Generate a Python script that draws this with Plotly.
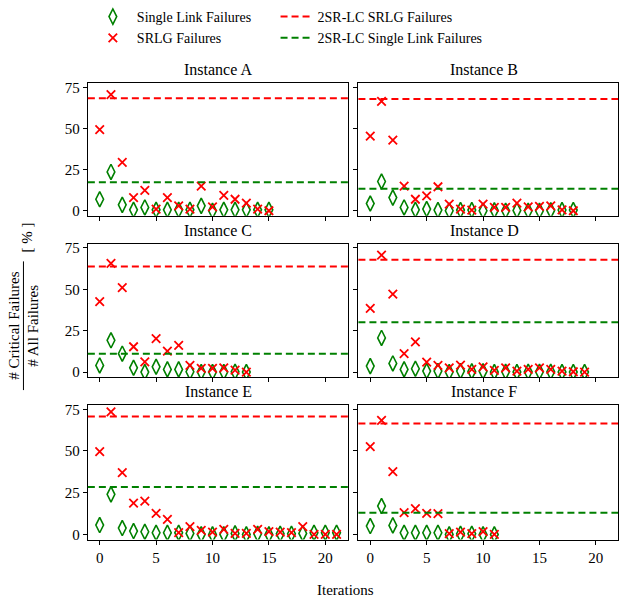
import plotly.graph_objects as go

# Per-instance results: share of critical failures (%) per iteration
instances = ["Instance A", "Instance B", "Instance C", "Instance D", "Instance E", "Instance F"]

link_A = [7, 23.6, 3.6, 0.6, 2, 0.6, 0.6, 0.6, 0.6, 3, 0, 0.6, 0.6, 0.6, 0.6, 0.6]
srlg_A = [49.4, 70.6, 29.4, 8, 12.4, 1, 8, 3, 1, 15, 2.4, 9.4, 7, 4.6, 1, 0]

link_B = [4.4, 17.8, 8, 2, 0.6, 1, 0.4, 0, 0.4, 0.4, 0, 0.2, 0, 0.2, 0, 0, 0.2, 0.4, 0.4]
srlg_B = [45.4, 66.6, 43, 15, 7, 9, 14.6, 4, 1, 0.4, 4, 2, 2, 4.6, 2.4, 2.6, 3, 0.6, 0]

link_C = [4, 19.2, 11.1, 2.6, 0, 3.2, 1.6, 1.6, 0.2, 0, 0, 0, 0.2, 0]
srlg_C = [42.5, 65.7, 51, 15.3, 6.2, 20.2, 12.7, 16.1, 4, 2.2, 2.2, 2.6, 1.2, 0]

link_D = [3.6, 20.6, 5.2, 1.6, 2, 0.6, 0.6, 0, 0.6, 0.4, 0.4, 0, 0.2, 0, 0.2, 0.2, 0.2, 0, 0, 0]
srlg_D = [38.5, 70.6, 47.1, 11.2, 18.2, 6, 4, 2.6, 4.2, 1.6, 3.2, 1, 2.6, 0.6, 1.6, 2.6, 1.6, 0.6, 0.2, 0]

link_E = [5.6, 24, 3.8, 2, 1.6, 1, 1, 1, 0.6, 0, 0, 0, 0.6, 0, 0.4, 0, 0.4, 0.4, 0.6, 1, 1, 1]
srlg_E = [49.6, 73.4, 37, 18.8, 20, 12.6, 9, 1, 4.6, 2.4, 1.4, 3, 0.6, 0.6, 3, 1.6, 1.4, 1, 4.6, 0, 0, 0]

link_F = [5, 17, 5.4, 1, 1, 1, 1, 0, 0.4, 0.4, 0, 0]
srlg_F = [52.6, 68.4, 37.6, 13, 15.4, 12.6, 12.4, 0.4, 1.4, 0.4, 1.6, 0]

# 2SR-LC reference levels (%)
lc_srlg = [68.4, 68, 63.7, 67.9, 70.6, 66.4]
lc_link = [17.4, 13.4, 11.1, 30.1, 28.4, 13]

link_series = [link_A, link_B, link_C, link_D, link_E, link_F]
srlg_series = [srlg_A, srlg_B, srlg_C, srlg_D, srlg_E, srlg_F]

x_ticks = [0, 5, 10, 15, 20]
y_ticks = [0, 25, 50, 75]

W, H = 619, 599
FONT = "'Liberation Serif', 'DejaVu Serif', serif"
GREEN = "#008000"
RED = "#ff0000"
DASH = "7px,4px"

# panel geometry (paper fractions)
col_dom = [[88 / W, 349 / W], [359 / W, 1.0]]
row_dom = [[1 - 215 / H, 1 - 81 / H], [1 - 378 / H, 1 - 243 / H], [1 - 542 / H, 1 - 406 / H]]
px_per_unit = (349 - 88) / 23.1
x_range_left = [-1.05, 22.05]
x_range_right = [-1.05, -1.05 + (W - 359) / px_per_unit]
y_range = [-3.1, 77.6]
title_x = [(88 + 349) / 2 / W, (359 + 611) / 2 / W]

fig = go.Figure()
layout = {}
for i in range(6):
    r, c = divmod(i, 2)
    n = i + 1
    xa = "xaxis" if n == 1 else f"xaxis{n}"
    ya = "yaxis" if n == 1 else f"yaxis{n}"
    xref = "x" if n == 1 else f"x{n}"
    yref = "y" if n == 1 else f"y{n}"
    common = dict(showline=True, linecolor="black", linewidth=1, mirror=True,
                  ticks="outside", ticklen=4, tickwidth=1, tickcolor="black",
                  showgrid=False, zeroline=False,
                  tickfont=dict(family=FONT, size=15, color="black"))
    layout[xa] = dict(common, domain=col_dom[c], anchor=yref,
                      range=x_range_left if c == 0 else x_range_right,
                      tickvals=x_ticks, showticklabels=(r == 2))
    layout[ya] = dict(common, domain=row_dom[r], anchor=xref, range=y_range,
                      tickvals=y_ticks, showticklabels=(c == 0))

    fig.add_trace(go.Scatter(
        x=list(range(len(link_series[i]))), y=link_series[i], mode="markers",
        xaxis=xref, yaxis=yref,
        marker=dict(symbol="diamond-tall-open", size=11, color=GREEN,
                    line=dict(width=1.6, color=GREEN)),
        name="Single Link Failures", legend="legend", legendgroup="link",
        showlegend=(i == 0)))
    fig.add_trace(go.Scatter(
        x=list(range(len(srlg_series[i]))), y=srlg_series[i], mode="markers",
        xaxis=xref, yaxis=yref,
        marker=dict(symbol="x-thin", size=8.5, color=RED,
                    line=dict(width=1.8, color=RED)),
        name="SRLG Failures", legend="legend", legendgroup="srlg",
        showlegend=(i == 0)))

    # 2SR-LC levels as horizontal dashed lines across the panel
    for val, col in ((lc_srlg[i], RED), (lc_link[i], GREEN)):
        fig.add_shape(type="line", xref=f"{xref} domain", yref=yref,
                      x0=0, x1=1, y0=val, y1=val,
                      line=dict(color=col, width=2, dash=DASH))

    fig.add_annotation(text=instances[i], xref="paper", yref="paper",
                       x=title_x[c], xanchor="center",
                       y=row_dom[r][1], yanchor="bottom", yshift=3,
                       showarrow=False, font=dict(family=FONT, size=16, color="black"))

# legend entries for the dashed reference lines (second legend column)
fig.add_trace(go.Scatter(x=[None], y=[None], mode="lines", name="2SR-LC SRLG Failures",
                         line=dict(color=RED, width=2, dash=DASH), legend="legend2"))
fig.add_trace(go.Scatter(x=[None], y=[None], mode="lines", name="2SR-LC Single Link Failures",
                         line=dict(color=GREEN, width=2, dash=DASH), legend="legend2"))

# y-axis label: fraction "# Critical Failures / # All Failures" and unit
lab_font = dict(family=FONT, size=15, color="black")
fig.add_annotation(text="# Critical Failures", xref="paper", yref="paper",
                   x=14 / W, y=1 - 326 / H, xanchor="center", yanchor="middle",
                   textangle=-90, showarrow=False, font=lab_font)
fig.add_annotation(text="# All Failures", xref="paper", yref="paper",
                   x=33 / W, y=1 - 326 / H, xanchor="center", yanchor="middle",
                   textangle=-90, showarrow=False, font=lab_font)
fig.add_shape(type="line", xref="paper", yref="paper",
              x0=23.5 / W, x1=23.5 / W, y0=1 - 261 / H, y1=1 - 391 / H,
              line=dict(color="black", width=1))
fig.add_annotation(text="[ % ]", xref="paper", yref="paper",
                   x=27 / W, y=1 - 237 / H, xanchor="center", yanchor="middle",
                   textangle=-90, showarrow=False, font=lab_font)
fig.add_annotation(text="Iterations", xref="paper", yref="paper",
                   x=346 / W, y=1 - 593 / H, xanchor="center", yanchor="middle",
                   showarrow=False, font=lab_font)

leg_font = dict(family=FONT, size=14, color="black")
fig.update_layout(
    **layout,
    width=W, height=H,
    margin=dict(l=0, r=0, t=0, b=0),
    paper_bgcolor="white", plot_bgcolor="white",
    font=dict(family=FONT, color="black"),
    legend=dict(orientation="v", x=89 / W, xanchor="left", y=1 + 2 / H, yanchor="top",
                tracegroupgap=0, itemwidth=38,
                font=leg_font, bgcolor="rgba(0,0,0,0)"),
    legend2=dict(orientation="v", x=276 / W, xanchor="left", y=1 + 2 / H, yanchor="top",
                 tracegroupgap=0, itemwidth=32,
                 font=leg_font, bgcolor="rgba(0,0,0,0)"),
)

fig.write_html("out.html")
